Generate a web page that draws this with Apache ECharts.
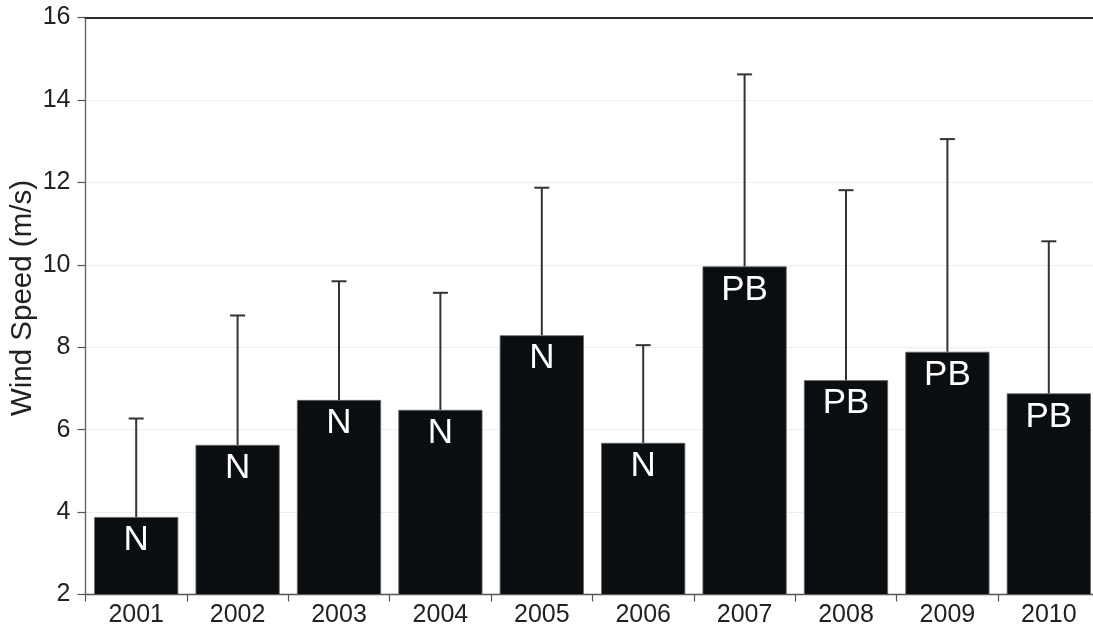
<!DOCTYPE html>
<html>
<head>
<meta charset="utf-8">
<title>Wind Speed by Year</title>
<script src="https://cdn.jsdelivr.net/npm/echarts@6/dist/echarts.min.js"></script>
<style>
  html, body { margin: 0; padding: 0; background: #ffffff; }
  #chart { width: 1093px; height: 628px; }
</style>
</head>
<body>
<div id="chart"></div>
<script>
// Yearly mean wind speed (m/s) with upper standard deviation
const years = ['2001', '2002', '2003', '2004', '2005', '2006', '2007', '2008', '2009', '2010'];
const meanSpeed = [3.88, 5.63, 6.72, 6.48, 8.29, 5.68, 9.96, 7.20, 7.89, 6.88];
const stdDev = [2.39, 3.14, 2.88, 2.84, 3.58, 2.37, 4.66, 4.61, 5.16, 3.69];
const groups = ['N', 'N', 'N', 'N', 'N', 'N', 'PB', 'PB', 'PB', 'PB'];
const yTicks = [2, 4, 6, 8, 10, 12, 14, 16];
const yTitle = 'Wind Speed (m/s)';

const FONT = 'Liberation Sans, Arial, sans-serif';

const errorData = years.map((y, i) => [i, meanSpeed[i], meanSpeed[i] + stdDev[i]]);

const chart = echarts.init(document.getElementById('chart'), null, { renderer: 'canvas' });

chart.setOption({
  animation: false,
  backgroundColor: '#ffffff',
  grid: {
    left: 85.5,
    top: 17.5,
    width: 1014,
    height: 577,
    outerBoundsMode: 'none',
    containLabel: false,
    show: false
  },
  graphic: [
    {
      type: 'text',
      x: 23,
      y: 298,
      rotation: Math.PI / 2,
      style: {
        text: yTitle,
        fill: '#222',
        font: '29.5px ' + FONT,
        align: 'center',
        verticalAlign: 'middle'
      }
    }
  ],
  xAxis: [
    {
      type: 'category',
      data: years,
      axisLine: { show: true, lineStyle: { color: '#555', width: 1.4 } },
      axisTick: { show: true, alignWithLabel: false, length: 7, lineStyle: { color: '#555', width: 1.2 } },
      axisLabel: { color: '#222', fontSize: 25, fontFamily: FONT, margin: 8 },
      splitLine: { show: false }
    },
    {
      // plain frame line along the top of the plot
      type: 'category',
      position: 'top',
      data: years,
      axisLine: { show: true, lineStyle: { color: '#2a2a2a', width: 1.8 } },
      axisTick: { show: false },
      axisLabel: { show: false },
      splitLine: { show: false }
    }
  ],
  yAxis: {
    type: 'value',
    min: yTicks[0],
    max: yTicks[yTicks.length - 1],
    interval: 2,
    axisLine: { show: true, lineStyle: { color: '#666', width: 1.4 } },
    axisTick: { show: true, length: 8, lineStyle: { color: '#555', width: 1.2 } },
    axisLabel: { color: '#222', fontSize: 25, fontFamily: FONT, margin: 15 },
    splitLine: { show: true, lineStyle: { color: '#eeeeee', width: 1 } }
  },
  series: [
    {
      type: 'bar',
      data: meanSpeed,
      barCategoryGap: '17%',
      itemStyle: { color: '#0b0e11', borderColor: '#666', borderWidth: 0.8 },
      label: {
        show: true,
        position: 'insideTop',
        distance: 6,
        color: '#ffffff',
        fontSize: 35,
        fontFamily: FONT,
        formatter: p => groups[p.dataIndex]
      },
      z: 2
    },
    {
      type: 'custom',
      data: errorData,
      z: 3,
      renderItem: (params, api) => {
        const x = api.value(0);
        const base = api.coord([x, api.value(1)]);
        const top = api.coord([x, api.value(2)]);
        const half = 7.5;
        const style = { stroke: '#333', lineWidth: 2 };
        return {
          type: 'group',
          children: [
            { type: 'line', shape: { x1: base[0], y1: base[1], x2: top[0], y2: top[1] }, style },
            { type: 'line', shape: { x1: top[0] - half, y1: top[1], x2: top[0] + half, y2: top[1] }, style }
          ]
        };
      }
    }
  ]
});
</script>
</body>
</html>
